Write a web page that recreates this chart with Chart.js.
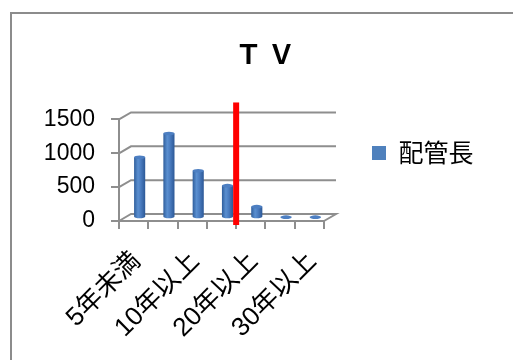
<!DOCTYPE html>
<html>
<head>
<meta charset="utf-8">
<script src="https://cdn.jsdelivr.net/npm/chart.js@4"></script>
<style>
  body { margin: 0; background: #fff; }
  #frame {
    position: absolute; left: 10px; top: 12px;
    width: 600px; height: 500px;
    border: 2px solid #8c8c8c;
  }
  #wrap { position: absolute; left: 0; top: 0; width: 513px; height: 360px; }
</style>
</head>
<body>
<div id="frame"></div>
<div id="wrap"><canvas id="chart" width="513" height="360"></canvas></div>
<script>
// pipe length by age band
const ageBands = ['5年未満', '5年以上', '10年以上', '15年以上', '20年以上', '25年以上', '30年以上'];
const pipeLength = [890, 1240, 690, 470, 160, 5, 5];
const yTicks = [0, 500, 1000, 1500];
const markerAfter = '15年以上'; // red divider sits right of this band

const latin = "'Liberation Sans', 'Noto Sans CJK JP', sans-serif";
const jp = "'Noto Sans CJK JP', sans-serif";
const lineGrey = '#8e8e8e';

// fake 3d: back wall offset and bar depth
const depthX = 12;
const depthY = -7;

const wallPlugin = {
    id: 'wall',
    beforeDatasetsDraw(chart) {
        const ctx = chart.ctx;
        const x = chart.scales.x;
        const y = chart.scales.y;
        const left = x.left;
        const right = x.right;
        ctx.save();
        ctx.strokeStyle = lineGrey;
        ctx.lineWidth = 2;
        yTicks.forEach(v => {
            const py = y.getPixelForValue(v);
            ctx.beginPath();
            ctx.moveTo(left, py);
            ctx.lineTo(left + depthX, py + depthY);
            ctx.lineTo(right + depthX, py + depthY);
            if (v === 0) ctx.lineTo(right, py);
            ctx.stroke();
        });
        ctx.restore();

        // cylinders at half depth
        const meta = chart.getDatasetMeta(0);
        meta.data.forEach(bar => {
            const cx = bar.x + depthX / 2;
            const top = bar.y + depthY / 2;
            const base = bar.base + depthY / 2;
            const w = bar.width;
            const rx = w / 2;
            const ry = 1.8;
            const g = ctx.createLinearGradient(cx - rx, 0, cx + rx, 0);
            g.addColorStop(0, '#2f5e9c');
            g.addColorStop(0.35, '#5a8fd0');
            g.addColorStop(0.6, '#4a7cc0');
            g.addColorStop(1, '#2c5896');
            ctx.save();
            ctx.fillStyle = g;
            ctx.beginPath();
            ctx.moveTo(cx - rx, top);
            ctx.lineTo(cx - rx, base);
            ctx.ellipse(cx, base, rx, ry, 0, Math.PI, 0, true);
            ctx.lineTo(cx + rx, top);
            ctx.closePath();
            ctx.fill();
            ctx.fillStyle = '#4d7fc2';
            ctx.beginPath();
            ctx.ellipse(cx, top, rx, ry, 0, 0, Math.PI * 2);
            ctx.fill();
            ctx.restore();
        });
        return false;
    },
    afterDraw(chart) {
        const ctx = chart.ctx;
        const x = chart.scales.x;
        const y = chart.scales.y;
        const i = ageBands.indexOf(markerAfter);
        const px = (x.getPixelForValue(i) + x.getPixelForValue(i + 1)) / 2;
        ctx.save();
        ctx.strokeStyle = '#ff0000';
        ctx.lineWidth = 6;
        ctx.beginPath();
        ctx.moveTo(px, y.getPixelForValue(1750));
        ctx.lineTo(px, y.getPixelForValue(0) + 4);
        ctx.stroke();
        ctx.restore();
    }
};

// empty right-hand boxes that only hold space around the legend
const spacer = (width, weight) => ({
    type: 'linear',
    position: 'right',
    display: true,
    weight: weight,
    grid: { display: false },
    border: { display: false },
    ticks: { display: false },
    afterFit(s) { s.width = width; }
});

new Chart(document.getElementById('chart'), {
    type: 'bar',
    data: {
        labels: ageBands,
        datasets: [{
            label: '配管長',
            data: pipeLength,
            backgroundColor: '#4f81bd',
            borderWidth: 0,
            categoryPercentage: 1,
            barPercentage: 0.38
        }]
    },
    options: {
        responsive: false,
        animation: false,
        layout: { padding: { left: 17, right: 0, top: 0, bottom: 0 } },
        plugins: {
            title: {
                display: true,
                text: 'Ｔ Ｖ',
                color: '#000',
                font: { family: jp, size: 27, weight: 'bold' },
                padding: { top: 38, bottom: 49 }
            },
            legend: {
                display: true,
                position: 'right',
                align: 'start',
                fullSize: false,
                maxWidth: 140,
                labels: {
                    color: '#000',
                    boxWidth: 14,
                    boxHeight: 14,
                    padding: 21,
                    font: { family: jp, size: 25 }
                }
            },
            tooltip: { enabled: false }
        },
        scales: {
            x: {
                grid: { drawOnChartArea: false, drawTicks: true, tickLength: 8, color: lineGrey, lineWidth: 2 },
                border: { display: true, color: lineGrey, width: 2 },
                ticks: {
                    autoSkip: false,
                    minRotation: 45,
                    maxRotation: 45,
                    padding: 17,
                    labelOffset: 3,
                    color: '#000',
                    font: { family: latin, size: 26 },
                    callback: (v, i) => (i % 2 === 0 ? ageBands[i] : '')
                },
                afterFit(s) { s.height = 139; }
            },
            y: {
                min: 0,
                max: 1500,
                grid: { drawOnChartArea: false, drawTicks: true, tickLength: 8, color: lineGrey, lineWidth: 2 },
                border: { display: true, color: lineGrey, width: 2 },
                ticks: {
                    stepSize: 500,
                    padding: 16,
                    color: '#000',
                    font: { family: latin, size: 23 },
                    callback: v => String(v)
                },
                afterFit(s) { s.width = 102; }
            },
            gap: spacer(27, 0),
            edge: spacer(29.5, 2000)
        }
    },
    plugins: [wallPlugin]
});
</script>
</body>
</html>
